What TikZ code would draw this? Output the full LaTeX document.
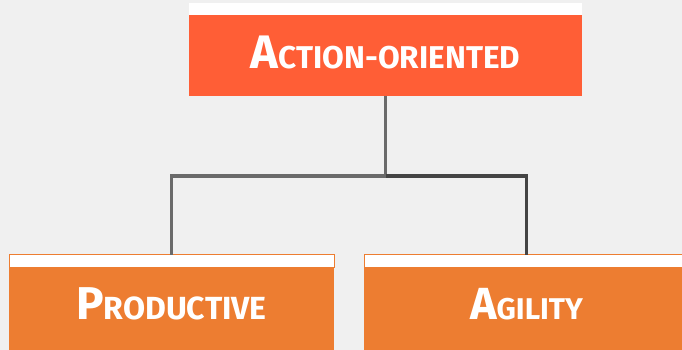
\documentclass[tikz,border=0pt]{standalone}
\usepackage{fontspec}
\setmainfont{Fira Sans}
\definecolor{pagebg}{HTML}{F0F0F0}
\definecolor{headorange}{HTML}{FF5E36}
\definecolor{boxorange}{HTML}{ED7D31}
\definecolor{linkgray}{HTML}{6A6A6A}
\definecolor{linkdark}{HTML}{444444}
% hand-set small capitals: big initial, smaller remaining capitals
\newcommand{\hcaps}[4]{{\fontsize{#3}{#3}\selectfont #1}{\fontsize{#4}{#4}\selectfont #2}}
\begin{document}
\begin{tikzpicture}[x=1pt,y=-1pt,
  every node/.style={inner sep=0pt, outer sep=0pt},
  band/.style={fill=white, minimum height=13pt},
  headbox/.style={fill=headorange, minimum width=393pt, minimum height=80.7pt},
  childbox/.style={fill=boxorange, minimum width=325pt, minimum height=92pt},
  childband/.style={band, draw=boxorange, line width=1pt, minimum width=325pt},
  caption/.style={text=white, font=\bfseries, anchor=base},
  link/.style={line width=3.5pt}]
\useasboundingbox (0,0) rectangle (682,350);
\fill[pagebg] (0,0) rectangle (682,350);
\begin{scope}
\clip (0,0) rectangle (682,350);
% head box
\node[band, minimum width=393pt, minimum height=12.3pt] (headband) at (385.5,8.85) {};
\node[headbox] (head) at (385.5,55.35) {};
\node[caption] (headtext) at (385.5,68.3) {\hcaps{A}{CTION-ORIENTED}{47}{31.5}};
% child boxes
\node[childband] (prodband) at (171.5,261.2) {};
\node[childbox] (prod) at (171.5,313.7) {};
\node[caption] (prodtext) at (171.5,319) {\hcaps{P}{RODUCTIVE}{46}{32}};
\node[childband] (agiband) at (526.5,261.2) {};
\node[childbox] (agi) at (526.5,313.7) {};
\node[caption] (agitext) at (526.5,319) {\hcaps{A}{GILITY}{45}{30}};
% connectors
\coordinate (hub) at (385.5,176);
\draw[link, linkgray] (head.south) -- (hub) -| (prodband.north);
\draw[link, linkdark] (hub) -| (agiband.north);
\end{scope}
\end{tikzpicture}
\end{document}
